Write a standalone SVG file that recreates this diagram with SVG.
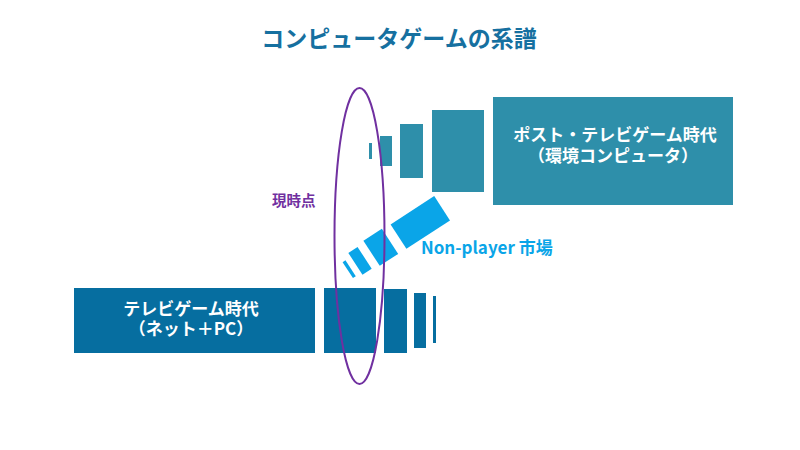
<svg xmlns="http://www.w3.org/2000/svg" width="800" height="450" viewBox="0 0 800 450">
  <style>
    text { font-family: "Noto Sans CJK JP", "Noto Sans", sans-serif; font-weight: bold; }
    .post { fill: #2E8FAA; }
    .tv { fill: #066EA0; }
    .np { fill: #0AA5E8; }
    .lbl { fill: #FFFFFF; font-size: 17px; text-anchor: middle; }
  </style>
  <rect width="800" height="450" fill="#FFFFFF"/>
  <text id="title" x="399" y="47" font-size="23" fill="#1670A0" text-anchor="middle">コンピュータゲームの系譜</text>

  <g id="post-tv">
    <rect class="post" x="369" y="143" width="3" height="16"/>
    <rect class="post" x="380" y="136" width="12" height="30"/>
    <rect class="post" x="400" y="124" width="23" height="54"/>
    <rect class="post" x="432" y="110" width="52" height="82"/>
    <rect class="post" x="493" y="97" width="240" height="108"/>
    <text class="lbl"><tspan x="615" y="141">ポスト・テレビゲーム時代</tspan><tspan x="613" y="162">（環境コンピュータ）</tspan></text>
  </g>

  <g id="tv-era">
    <rect class="tv" x="74" y="288" width="241" height="65"/>
    <rect class="tv" x="324" y="288" width="52" height="65"/>
    <rect class="tv" x="384" y="289" width="23" height="64"/>
    <rect class="tv" x="414" y="293" width="12" height="55"/>
    <rect class="tv" x="433" y="296" width="3" height="47"/>
    <text class="lbl"><tspan x="191" y="315">テレビゲーム時代</tspan><tspan x="191" y="335">（ネット＋PC）</tspan></text>
  </g>

  <g id="non-player">
    <rect class="np" x="-26" y="-14.5" width="52" height="29" transform="translate(420.3,222.4) rotate(-33)"/>
    <rect class="np" x="-11" y="-15" width="22" height="30" transform="translate(380.8,247.3) rotate(-33)"/>
    <rect class="np" x="-5.5" y="-13" width="11" height="26" transform="translate(360,260.8) rotate(-33)"/>
    <rect class="np" x="-1.7" y="-9.5" width="3.4" height="19" transform="translate(349.2,269.2) rotate(-33)"/>
    <text x="421" y="254" font-size="17" fill="#0AA5E8">Non-player 市場</text>
  </g>

  <g id="now">
    <ellipse cx="359.5" cy="236" rx="25" ry="148" fill="none" stroke="#7030A0" stroke-width="2"/>
    <text x="272" y="206" font-size="14.5" fill="#7030A0">現時点</text>
  </g>
</svg>
